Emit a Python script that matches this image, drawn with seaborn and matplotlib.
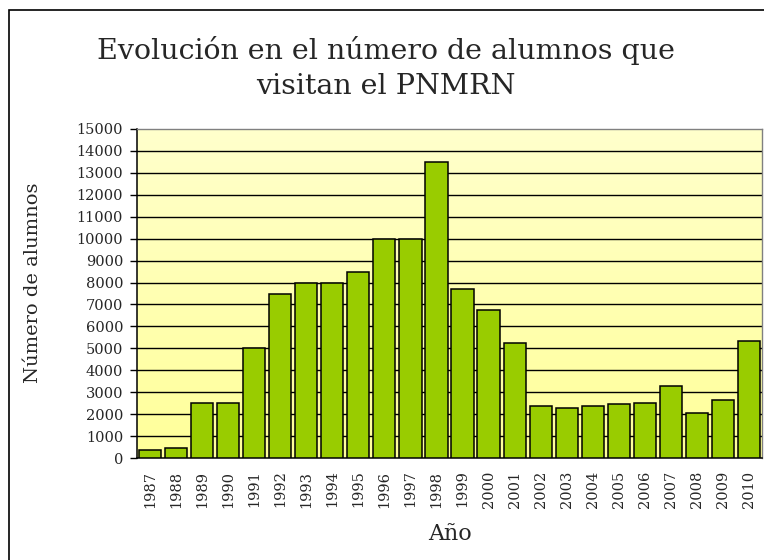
import matplotlib
matplotlib.use("Agg")
import matplotlib.pyplot as plt
import seaborn as sns
import numpy as np
import pandas as pd
from matplotlib.patches import Rectangle

# --- data ---
years = [str(y) for y in range(1987, 2011)]
alumnos = [350, 450, 2500, 2500, 5000, 7500, 8000, 8000, 8500, 10000, 10000, 13500,
           7700, 6750, 5250, 2350, 2300, 2350, 2450, 2500, 3300, 2050, 2650, 5350]
y_ticks = list(range(0, 15001, 1000))
titulo = ["Evolución en el número de alumnos que", "visitan el PNMRN"]

df = pd.DataFrame({"Año": years, "alumnos": alumnos})

sns.set_style("white")
plt.rcParams["font.family"] = ["DejaVu Serif"]

W, H = 764, 560
fig = plt.figure(figsize=(W / 100, H / 100), dpi=100)
ax = fig.add_axes([137 / W, 1 - 458 / H, 625 / W, 329 / H])

# outer chart border (cropped on the right and bottom in the reference)
fig.patches.append(Rectangle((9 / W, -0.1), 1.2, 0.1 + (H - 10) / H,
                             transform=fig.transFigure, fill=False,
                             edgecolor="black", linewidth=1.2, zorder=0))

# yellow gradient background
grad = np.linspace(0, 1, 256).reshape(-1, 1)
cmap = matplotlib.colors.LinearSegmentedColormap.from_list("bg", ["#ffff99", "#ffffcc"])
ax.imshow(grad, aspect="auto", cmap=cmap, origin="lower",
          extent=(-0.5, len(years) - 0.5, 0, 15000), zorder=0)

sns.barplot(data=df, x="Año", y="alumnos", color="#99cc00", saturation=1,
            width=0.85, edgecolor="black", linewidth=1.1, ax=ax, zorder=3)

ax.set_xlim(-0.5, len(years) - 0.5)
ax.set_ylim(0, 15000)
ax.set_yticks(y_ticks)
ax.set_yticklabels([str(v) for v in y_ticks], fontsize=10.5)
for v in y_ticks[1:-1]:
    ax.axhline(v, color="black", linewidth=1, zorder=1)

ax.set_xticks(range(len(years)))
ax.set_xticklabels(years, rotation=90, fontsize=10.5)
ax.set_xticks(np.arange(-0.5, len(years)), minor=True)
ax.tick_params(axis="x", which="major", length=0, pad=9)
ax.tick_params(axis="x", which="minor", length=5, width=1, color="black", direction="out")
ax.tick_params(axis="y", length=5, width=1, color="black", direction="out", pad=5)
ax.yaxis.set_ticks_position("left")

for side in ["left", "bottom"]:
    ax.spines[side].set_color("black")
    ax.spines[side].set_linewidth(1.1)
for side in ["top", "right"]:
    ax.spines[side].set_color("#808080")
    ax.spines[side].set_linewidth(1)

ax.set_xlabel("Año", fontsize=16, labelpad=11)
ax.set_ylabel("Número de alumnos", fontsize=14)
ax.yaxis.set_label_coords((42 - 137) / 625, (458 - 283) / 329)

# two-line title, baselines
for linea, base in zip(titulo, [59, 94]):
    fig.text(386 / W, 1 - base / H, linea, ha="center", va="baseline", fontsize=20.5)

fig.savefig("out.png", dpi=100)
